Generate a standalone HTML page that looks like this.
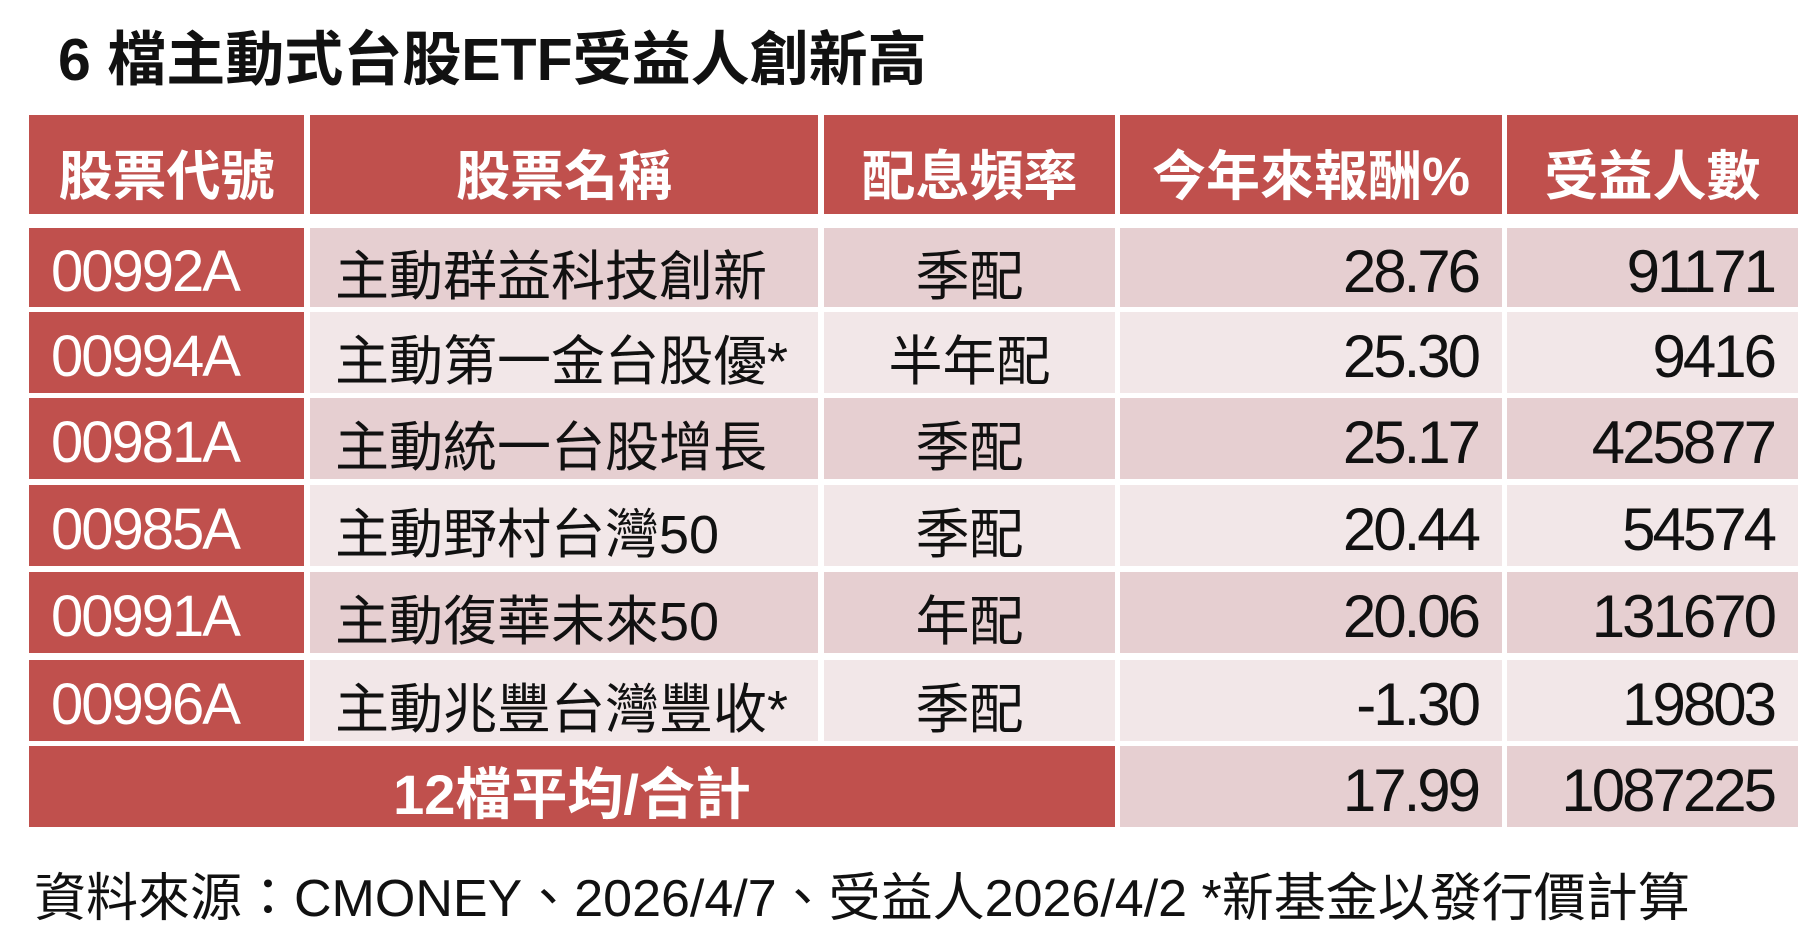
<!DOCTYPE html>
<html><head><meta charset="utf-8"><style>
body{margin:0;width:1811px;height:949px;background:#fff;position:relative;overflow:hidden;font-family:"Liberation Sans","Noto Sans CJK TC",sans-serif;}
.t{position:absolute;left:58px;top:12px;font-size:59px;font-weight:bold;color:#111;white-space:nowrap;}
.c{position:absolute;box-sizing:border-box;display:flex;align-items:center;white-space:nowrap;padding-top:8px;}
.h{background:#c0504d;color:#fff;font-weight:bold;font-size:54px;justify-content:center;padding-top:14px;}
.r{background:#c0504d;color:#fff;font-size:58px;letter-spacing:-2px;padding-left:22px;}
.d{background:#e6cfd1;}
.l{background:#f2e7e8;}
.nm{font-size:54px;color:#111;padding-left:25px;}
.ct{font-size:54px;color:#111;justify-content:center;}
.n{font-size:60px;letter-spacing:-3px;color:#111;justify-content:flex-end;padding-right:24px;}
.f{position:absolute;left:34px;top:856px;font-size:52px;color:#111;white-space:nowrap;}
</style></head><body>
<div class="t">6 檔主動式台股ETF受益人創新高</div>

<div class="c h" style="left:29px;top:115px;width:275px;height:99px">股票代號</div>
<div class="c h" style="left:310px;top:115px;width:508px;height:99px">股票名稱</div>
<div class="c h" style="left:824px;top:115px;width:291px;height:99px">配息頻率</div>
<div class="c h" style="left:1120px;top:115px;width:382px;height:99px">今年來報酬%</div>
<div class="c h" style="left:1507px;top:115px;width:291px;height:99px">受益人數</div>

<div class="c r" style="left:29px;top:228px;width:275px;height:79px">00992A</div>
<div class="c nm d" style="left:310px;top:228px;width:508px;height:79px">主動群益科技創新</div>
<div class="c ct d" style="left:824px;top:228px;width:291px;height:79px">季配</div>
<div class="c n d" style="left:1120px;top:228px;width:382px;height:79px">28.76</div>
<div class="c n d" style="left:1507px;top:228px;width:291px;height:79px">91171</div>

<div class="c r" style="left:29px;top:312px;width:275px;height:81px">00994A</div>
<div class="c nm l" style="left:310px;top:312px;width:508px;height:81px">主動第一金台股優*</div>
<div class="c ct l" style="left:824px;top:312px;width:291px;height:81px">半年配</div>
<div class="c n l" style="left:1120px;top:312px;width:382px;height:81px">25.30</div>
<div class="c n l" style="left:1507px;top:312px;width:291px;height:81px">9416</div>

<div class="c r" style="left:29px;top:398px;width:275px;height:81px">00981A</div>
<div class="c nm d" style="left:310px;top:398px;width:508px;height:81px">主動統一台股增長</div>
<div class="c ct d" style="left:824px;top:398px;width:291px;height:81px">季配</div>
<div class="c n d" style="left:1120px;top:398px;width:382px;height:81px">25.17</div>
<div class="c n d" style="left:1507px;top:398px;width:291px;height:81px">425877</div>

<div class="c r" style="left:29px;top:485px;width:275px;height:81px">00985A</div>
<div class="c nm l" style="left:310px;top:485px;width:508px;height:81px">主動野村台灣50</div>
<div class="c ct l" style="left:824px;top:485px;width:291px;height:81px">季配</div>
<div class="c n l" style="left:1120px;top:485px;width:382px;height:81px">20.44</div>
<div class="c n l" style="left:1507px;top:485px;width:291px;height:81px">54574</div>

<div class="c r" style="left:29px;top:572px;width:275px;height:81px">00991A</div>
<div class="c nm d" style="left:310px;top:572px;width:508px;height:81px">主動復華未來50</div>
<div class="c ct d" style="left:824px;top:572px;width:291px;height:81px">年配</div>
<div class="c n d" style="left:1120px;top:572px;width:382px;height:81px">20.06</div>
<div class="c n d" style="left:1507px;top:572px;width:291px;height:81px">131670</div>

<div class="c r" style="left:29px;top:660px;width:275px;height:81px">00996A</div>
<div class="c nm l" style="left:310px;top:660px;width:508px;height:81px">主動兆豐台灣豐收*</div>
<div class="c ct l" style="left:824px;top:660px;width:291px;height:81px">季配</div>
<div class="c n l" style="left:1120px;top:660px;width:382px;height:81px">-1.30</div>
<div class="c n l" style="left:1507px;top:660px;width:291px;height:81px">19803</div>

<div class="c h" style="left:29px;top:746px;width:1086px;height:81px;font-size:56px;padding-top:8px">12檔平均/合計</div>
<div class="c n d" style="left:1120px;top:746px;width:382px;height:81px">17.99</div>
<div class="c n d" style="left:1507px;top:746px;width:291px;height:81px">1087225</div>

<div class="f">資料來源：CMONEY、2026/4/7、受益人2026/4/2 *新基金以發行價計算</div>
</body></html>
